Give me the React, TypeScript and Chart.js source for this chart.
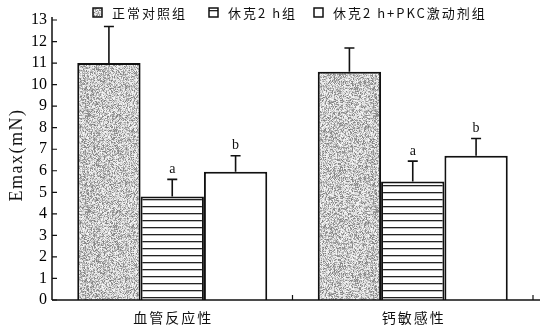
import React, { useEffect, useRef } from 'react';
import { Chart, registerables } from 'chart.js';

Chart.register(...registerables);

const categories = ['血管反应性', '钙敏感性'];
const seriesNames = ['正常对照组', '休克2 h组', '休克2 h+PKC激动剂组'];
const normalValues = [11.0, 10.6];
const shockValues = [4.8, 5.5];
const pkcValues = [5.95, 6.7];
const normalSD = [1.7, 1.1];
const shockSD = [0.8, 0.95];
const pkcSD = [0.75, 0.8];
const normalSig = ['', ''];
const shockSig = ['a', 'a'];
const pkcSig = ['b', 'b'];
const yTicks = [0, 1, 2, 3, 4, 5, 6, 7, 8, 9, 10, 11, 12, 13];

const SERIF = '"Liberation Serif", "DejaVu Serif", serif';
const CJK = '"Noto Sans CJK SC", sans-serif';

function makeSpeckle(): CanvasPattern | string {
  const c = document.createElement('canvas');
  c.width = 96; c.height = 96;
  const ctx = c.getContext('2d');
  if (!ctx) return '#aaa';
  const img = ctx.createImageData(96, 96);
  let s = 12345;
  const rnd = () => { s = (s * 1103515245 + 12345) & 0x7fffffff; return s / 0x7fffffff; };
  for (let i = 0; i < 96 * 96; i++) {
    const r = rnd();
    let v = 200;
    if (r < 0.25) v = 125 + rnd() * 40;
    else if (r < 0.5) v = 170 + rnd() * 30;
    else v = 210 + rnd() * 40;
    img.data[i * 4] = v; img.data[i * 4 + 1] = v; img.data[i * 4 + 2] = v; img.data[i * 4 + 3] = 255;
  }
  ctx.putImageData(img, 0, 0);
  const p = document.createElement('canvas').getContext('2d')!.createPattern(c, 'repeat');
  return p || '#aaa';
}

function makeLines(): CanvasPattern | string {
  const c = document.createElement('canvas');
  c.width = 8; c.height = 7;
  const ctx = c.getContext('2d');
  if (!ctx) return '#fff';
  ctx.fillStyle = '#fff';
  ctx.fillRect(0, 0, 8, 7);
  ctx.fillStyle = '#222';
  ctx.fillRect(0, 3, 8, 1.3);
  const p = document.createElement('canvas').getContext('2d')!.createPattern(c, 'repeat');
  return p || '#fff';
}

export default function App() {
  const ref = useRef<HTMLCanvasElement | null>(null);
  useEffect(() => {
    document.body.style.margin = '0';
    const canvas = ref.current;
    if (!canvas) return;
    const speckle = makeSpeckle();
    const lines = makeLines();
    const fills = [speckle, lines, '#ffffff'];
    const sds = [normalSD, shockSD, pkcSD];
    const sigs = [normalSig, shockSig, pkcSig];

    const custom = {
      id: 'custom',
      afterDatasetsDraw(chart: any) {
        const ctx = chart.ctx as CanvasRenderingContext2D;
        const y = chart.scales.y;
        const x = chart.scales.x;
        const area = chart.chartArea;
        ctx.save();
        // error bars
        chart.data.datasets.forEach((ds: any, di: number) => {
          const meta = chart.getDatasetMeta(di);
          meta.data.forEach((el: any, i: number) => {
            const v = ds.data[i];
            const top = y.getPixelForValue(v + sds[di][i]);
            ctx.strokeStyle = '#111';
            ctx.lineWidth = 1.6;
            ctx.beginPath();
            ctx.moveTo(el.x, el.y);
            ctx.lineTo(el.x, top);
            ctx.moveTo(el.x - 5, top);
            ctx.lineTo(el.x + 5, top);
            ctx.stroke();
            const lab = sigs[di][i];
            if (lab) {
              ctx.fillStyle = '#111';
              ctx.font = '14px ' + SERIF;
              ctx.textAlign = 'center';
              ctx.textBaseline = 'bottom';
              ctx.fillText(lab, el.x, top - 3);
            }
          });
        });
        // axes
        ctx.strokeStyle = '#111';
        ctx.lineWidth = 1.5;
        ctx.beginPath();
        ctx.moveTo(area.left, area.bottom);
        ctx.lineTo(area.left, area.top - 3);
        ctx.moveTo(area.left, area.bottom);
        ctx.lineTo(540, area.bottom);
        ctx.stroke();
        // inward y ticks
        ctx.lineWidth = 1.2;
        ctx.beginPath();
        yTicks.forEach((t) => {
          const py = y.getPixelForValue(t);
          ctx.moveTo(area.left, py);
          ctx.lineTo(area.left + 5, py);
        });
        // x category boundary ticks
        const step = x.getPixelForValue(1) - x.getPixelForValue(0);
        for (let i = 0; i < categories.length; i++) {
          const px = x.getPixelForValue(i) + step / 2;
          ctx.moveTo(px, area.bottom);
          ctx.lineTo(px, area.bottom - 5);
        }
        ctx.stroke();
        // x labels
        ctx.fillStyle = '#111';
        ctx.font = '14px ' + CJK;
        (ctx as any).letterSpacing = '2px';
        ctx.textAlign = 'center';
        ctx.textBaseline = 'middle';
        categories.forEach((c, i) => {
          ctx.fillText(c, x.getPixelForValue(i) + 1, 318);
        });
        // y title
        ctx.save();
        ctx.translate(17, 155);
        ctx.rotate(-Math.PI / 2);
        ctx.font = '18px ' + SERIF;
        (ctx as any).letterSpacing = '1.5px';
        ctx.fillText('Emax(mN)', 0, 0);
        ctx.restore();
        // legend
        const legendX = [93, 209, 314];
        seriesNames.forEach((n, i) => {
          const lx = legendX[i];
          const ly = 8;
          ctx.fillStyle = fills[i] as any;
          ctx.fillRect(lx, ly, 9, 9);
          ctx.strokeStyle = '#111';
          ctx.lineWidth = 1.5;
          ctx.strokeRect(lx, ly, 9, 9);
          ctx.fillStyle = '#111';
          ctx.font = '13px ' + CJK;
          (ctx as any).letterSpacing = '2px';
          ctx.textAlign = 'left';
          ctx.textBaseline = 'middle';
          ctx.fillText(n, lx + 19, ly + 5);
        });
        ctx.restore();
      },
    };

    const chart = new Chart(canvas, {
      type: 'bar',
      data: {
        labels: categories,
        datasets: [
          { label: seriesNames[0], data: normalValues, backgroundColor: speckle as any, borderColor: '#111', borderWidth: 2, borderSkipped: 'bottom' },
          { label: seriesNames[1], data: shockValues, backgroundColor: lines as any, borderColor: '#111', borderWidth: 2, borderSkipped: 'bottom' },
          { label: seriesNames[2], data: pkcValues, backgroundColor: '#ffffff', borderColor: '#111', borderWidth: 2, borderSkipped: 'bottom' },
        ],
      },
      options: {
        responsive: false,
        animation: false,
        layout: { padding: { left: 0, right: 14, top: 20, bottom: 0 } },
        datasets: { bar: { categoryPercentage: 0.79, barPercentage: 1.0 } },
        plugins: { legend: { display: false }, tooltip: { enabled: false } },
        scales: {
          x: {
            grid: { display: false, drawTicks: false },
            border: { display: false },
            ticks: { display: false },
            afterFit: (s: any) => { s.height = 29; },
          },
          y: {
            min: 0,
            max: 13,
            grid: { display: false, drawTicks: false },
            border: { display: false },
            ticks: { stepSize: 1, autoSkip: false, padding: 5, color: '#000', font: { family: SERIF, size: 16 } },
            afterFit: (s: any) => { s.width = 52; },
          },
        },
      },
      plugins: [custom],
    });
    return () => chart.destroy();
  }, []);
  return (
    <div style={{ width: 547, height: 329, background: '#fff' }}>
      <canvas ref={ref} width={547} height={329} />
    </div>
  );
}
